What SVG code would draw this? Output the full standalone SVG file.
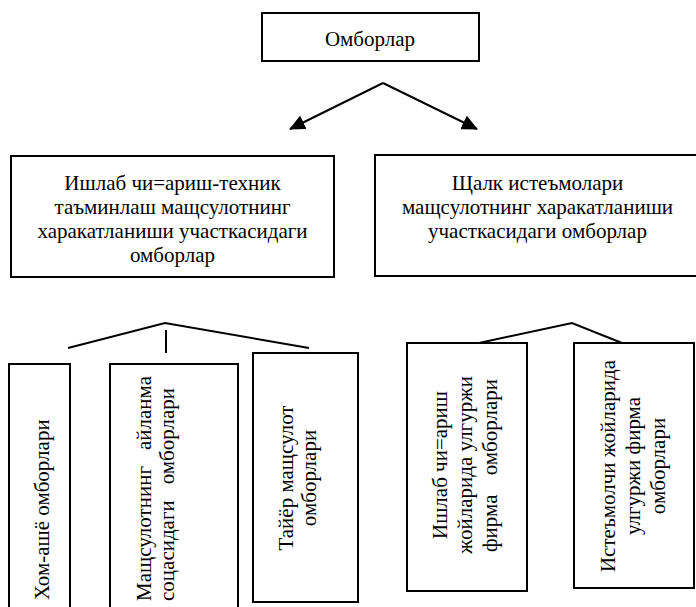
<svg xmlns="http://www.w3.org/2000/svg" width="696" height="607" viewBox="0 0 696 607">
  <style>
    .box { fill: #fff; stroke: #000; stroke-width: 2; }
    .link { fill: none; stroke: #000; stroke-width: 2; }
    .lbl { font-family: "Liberation Serif", "Times New Roman", serif; font-size: 21px; fill: #000; }
    .c { text-anchor: middle; }
    .e { text-anchor: end; }
  </style>
  <defs>
    <marker id="tri" viewBox="0 0 16 15" refX="15" refY="7.5" markerWidth="16" markerHeight="15" markerUnits="userSpaceOnUse" orient="auto">
      <path d="M0,0 L16,7.5 L0,15 z" fill="#000"/>
    </marker>
  </defs>

  <rect width="696" height="607" fill="#fff"/>

  <!-- connectors -->
  <g id="connectors">
    <line class="link" x1="383" y1="83" x2="290" y2="129" marker-end="url(#tri)"/>
    <line class="link" x1="383" y1="83" x2="477" y2="129" marker-end="url(#tri)"/>
    <polyline class="link" points="68,348 165,323 309,348"/>
    <line class="link" x1="166" y1="330" x2="166" y2="353"/>
    <polyline class="link" points="479,343 572,323 622,343"/>
  </g>

  <!-- root -->
  <g id="root">
    <rect class="box" x="262" y="13" width="217" height="48"/>
    <text class="lbl c" x="370" y="46">Омборлар</text>
  </g>

  <!-- second level -->
  <g id="production">
    <rect class="box" x="11" y="156" width="323" height="121"/>
    <text class="lbl c" x="172.5" y="190">Ишлаб чи=ариш-техник</text>
    <text class="lbl c" x="172.5" y="214">таъминлаш мащсулотнинг</text>
    <text class="lbl c" x="172.5" y="238">харакатланиши участкасидаги</text>
    <text class="lbl c" x="172.5" y="262">омборлар</text>
  </g>

  <g id="consumer">
    <rect class="box" x="375" y="155" width="325" height="121"/>
    <text class="lbl c" x="537.5" y="190">Щалк истеъмолари</text>
    <text class="lbl c" x="537.5" y="214">мащсулотнинг харакатланиши</text>
    <text class="lbl c" x="537.5" y="238">участкасидаги омборлар</text>
  </g>

  <!-- third level, vertical labels -->
  <g id="raw">
    <rect class="box" x="9" y="364" width="61" height="260"/>
    <text class="lbl" transform="rotate(-90)" x="-600" y="49">Хом-ашё омборлари</text>
  </g>

  <g id="circulation">
    <rect class="box" x="110" y="364" width="128" height="260"/>
    <text class="lbl" transform="rotate(-90)" y="151"><tspan x="-601">Мащсулотнинг</tspan><tspan class="e" x="-376">айланма</tspan></text>
    <text class="lbl" transform="rotate(-90)" y="174"><tspan x="-601">соцасидаги</tspan><tspan class="e" x="-388">омборлари</tspan></text>
  </g>

  <g id="finished">
    <rect class="box" x="253" y="353" width="105" height="249"/>
    <text class="lbl c" transform="rotate(-90)" x="-478" y="293">Тайёр мащсулот</text>
    <text class="lbl c" transform="rotate(-90)" x="-478" y="316">омборлари</text>
  </g>

  <g id="wholesale-producer">
    <rect class="box" x="407" y="343" width="120" height="248"/>
    <text class="lbl c" transform="rotate(-90)" x="-465" y="447">Ишлаб чи=ариш</text>
    <text class="lbl c" transform="rotate(-90)" x="-465" y="472">жойларида улгуржи</text>
    <text class="lbl" transform="rotate(-90)" y="497"><tspan x="-552">фирма</tspan><tspan class="e" x="-379">омборлари</tspan></text>
  </g>

  <g id="wholesale-consumer">
    <rect class="box" x="574" y="343" width="120" height="245"/>
    <text class="lbl c" transform="rotate(-90)" x="-466" y="615">Истеъмолчи жойларида</text>
    <text class="lbl c" transform="rotate(-90)" x="-466" y="640">улгуржи фирма</text>
    <text class="lbl c" transform="rotate(-90)" x="-466" y="665">омборлари</text>
  </g>
</svg>
